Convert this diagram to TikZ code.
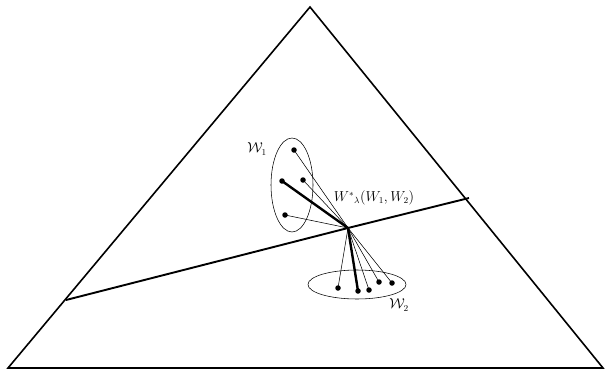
\documentclass[tikz,border=0pt]{standalone}
\begin{document}
\begin{tikzpicture}[x=1pt,y=-1pt,
  dot/.style={circle,fill=black,inner sep=0pt,minimum size=5.5pt},
  thin line/.style={line width=0.55pt},
  heavy line/.style={line width=2.4pt},
  lbl/.style={inner sep=0pt,font=\fontsize{13.5}{16}\selectfont}]
\useasboundingbox (0,0) rectangle (610,372);
% triangle
\coordinate (A) at (310,7);
\coordinate (B) at (8,368);
\coordinate (C) at (603,368);
\draw[line width=1.6pt,line join=miter] (A) -- (B) -- (C) -- cycle;
% dividing line
\coordinate (L) at (66,300);
\coordinate (R) at (469,198);
\coordinate (P) at (348,228);
\draw[line width=1.9pt] (L) -- (P) -- (R);
% ellipses
\draw[line width=0.55pt] (292,185) ellipse [x radius=21, y radius=47];
\draw[line width=0.55pt] (357,284.5) ellipse [x radius=49, y radius=14.5];
% W1 points
\node[dot] (a1) at (294,150) {};
\node[dot] (a2) at (282,181) {};
\node[dot] (a3) at (303,180) {};
\node[dot] (a4) at (285,215) {};
% W2 points
\node[dot] (b1) at (338,288) {};
\node[dot] (b2) at (358,291) {};
\node[dot] (b3) at (369,290) {};
\node[dot] (b4) at (379,282) {};
\node[dot] (b5) at (392,283) {};
% connectors
\draw[thin line] (a1.center) -- (P);
\draw[heavy line] (a2.center) -- (P);
\draw[thin line] (a3.center) -- (P);
\draw[thin line] (a4.center) -- (P);
\draw[thin line] (P) -- (b1.center);
\draw[heavy line] (P) -- (b2.center);
\draw[thin line] (P) -- (b3.center);
\draw[thin line] (P) -- (b4.center);
\draw[thin line] (P) -- (b5.center);
% labels
\node[lbl] (w1) at (257,149) {$\mathcal{W}_1$};
\node[lbl] (w2) at (399,305) {$\mathcal{W}_2$};
\node[lbl] (ws) at (374,198) {$W^{*}{}_{\lambda}(W_1,W_2)$};
\end{tikzpicture}
\end{document}
